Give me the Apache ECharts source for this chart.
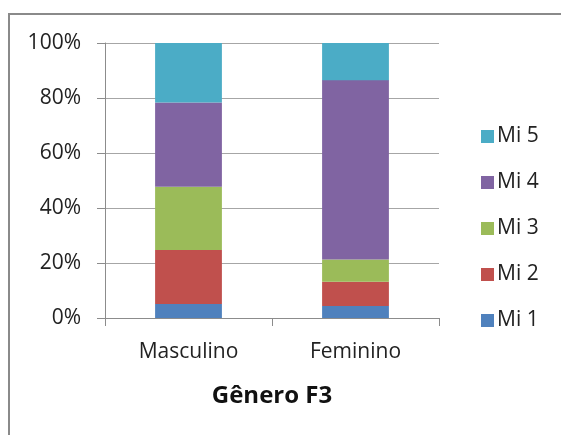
<!DOCTYPE html>
<html>
<head>
<meta charset="utf-8">
<script src="https://cdn.jsdelivr.net/npm/echarts@6/dist/echarts.min.js"></script>
<style>
  html, body { margin: 0; padding: 0; background: #fff; }
  #chart { width: 561px; height: 435px; }
</style>
</head>
<body>
<div id="chart"></div>
<script>
// Share of each Mi level within each gender group (percent, stacks to 100)
const categories = ['Masculino', 'Feminino'];
const mi1 = [5.1, 4.4];
const mi2 = [19.6, 8.8];
const mi3 = [23.0, 8.1];
const mi4 = [30.7, 65.2];
const mi5 = [21.6, 13.5];
const seriesNames = ['Mi 1', 'Mi 2', 'Mi 3', 'Mi 4', 'Mi 5'];
const seriesColors = ['#4f81bd', '#c0504d', '#9bbb59', '#8064a2', '#4bacc6'];
const axisTitle = 'Gênero F3';

const FONT = 'Open Sans';
const seriesValues = [mi1, mi2, mi3, mi4, mi5];

const chart = echarts.init(document.getElementById('chart'), null, { renderer: 'canvas' });

chart.setOption({
  animation: false,
  backgroundColor: '#fff',
  color: seriesColors,
  textStyle: { fontFamily: FONT },
  graphic: [{
    // outer frame: only the top and left edges fall inside the canvas
    type: 'polyline',
    shape: { points: [[9, 440], [9, 14], [570, 14]] },
    style: { fill: null, stroke: '#8a8a8a', lineWidth: 2 },
    silent: true
  }],
  grid: { left: 105, right: 122, top: 43, bottom: 117, containLabel: false },
  legend: {
    orient: 'vertical',
    left: 481,
    top: 126,
    padding: 0,
    itemWidth: 13,
    itemHeight: 13,
    itemGap: 25,
    icon: 'rect',
    data: seriesNames.slice().reverse(),
    textStyle: { fontFamily: FONT, fontSize: 21, color: '#222', padding: [0, 0, 0, -2] }
  },
  xAxis: {
    type: 'category',
    data: categories,
    name: axisTitle,
    nameLocation: 'middle',
    nameGap: 66,
    nameTextStyle: { fontFamily: FONT, fontSize: 24, fontWeight: 'bold', color: '#111' },
    axisLine: { lineStyle: { color: '#8c8c8c', width: 1 } },
    axisTick: { show: true, length: 8, lineStyle: { color: '#8c8c8c' } },
    axisLabel: { margin: 24, fontFamily: FONT, fontSize: 21, color: '#222' }
  },
  yAxis: {
    type: 'value',
    min: 0,
    max: 100,
    interval: 20,
    axisLine: { show: true, lineStyle: { color: '#8c8c8c', width: 1 } },
    axisTick: { show: true, length: 8, lineStyle: { color: '#8c8c8c' } },
    splitLine: { lineStyle: { color: '#a6a6a6', width: 1 } },
    axisLabel: { margin: 24, fontFamily: FONT, fontSize: 21, color: '#222', formatter: '{value}%' }
  },
  series: seriesNames.map((name, i) => ({
    name: name,
    type: 'bar',
    stack: 'total',
    barWidth: '40%',
    data: seriesValues[i],
    itemStyle: { color: seriesColors[i] }
  }))
});
</script>
</body>
</html>
